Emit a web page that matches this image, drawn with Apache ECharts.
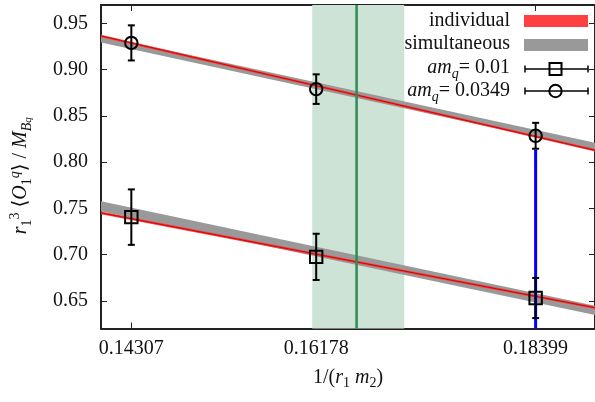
<!DOCTYPE html>
<html>
<head>
<meta charset="utf-8">
<script src="https://cdn.jsdelivr.net/npm/echarts@6/dist/echarts.min.js"></script>
<style>
html,body{margin:0;padding:0;background:#fff;}
#c{width:595px;height:402px;}
</style>
</head>
<body>
<div id="c"></div>
<script>
// ---- data ----
const xTicks = [0.14307, 0.16178, 0.18399];
const yTicks = [0.65, 0.70, 0.75, 0.80, 0.85, 0.90, 0.95];
const xRange = [0.14, 0.19];
const yRange = [0.62, 0.97];

// fit lines evaluated at the two ends of the x range
const fitX = [0.14, 0.19];
const indivUpperY = [0.9365, 0.8129];
const indivLowerY = [0.7451, 0.6425];
const indivHalf = [0.0014, 0.0014];
const simUpperY = [0.9330, 0.8172];
const simUpperHalf = [0.0037, 0.0037];
const simLowerY = [0.7523, 0.6395];
const simLowerHalf = [0.0054, 0.0050];

// data points
const pointX = [0.14307, 0.16178, 0.18399];
const circleY = [0.929, 0.879, 0.8285];
const circleErr = [0.019, 0.016, 0.014];
const squareY = [0.7405, 0.6975, 0.653];
const squareErr = [0.030, 0.025, 0.0217];

// physical point band and line
const bandX = [0.16138, 0.17069];
const centralX = 0.16587;
const blueX = 0.18399;
const blueY = [0.62, 0.8136];

const FONT = "'Liberation Serif', 'DejaVu Serif', serif";

function bandItem(yc, half) {
  return [fitX[0], yc[0] - half[0], yc[0] + half[0], fitX[1], yc[1] - half[1], yc[1] + half[1]];
}

function bandRender(fill, centerColor) {
  return function (params, api) {
    const x0 = api.value(0), lo0 = api.value(1), hi0 = api.value(2);
    const x1 = api.value(3), lo1 = api.value(4), hi1 = api.value(5);
    const pts = [api.coord([x0, hi0]), api.coord([x1, hi1]), api.coord([x1, lo1]), api.coord([x0, lo0])];
    const children = [{ type: 'polygon', shape: { points: pts }, style: { fill: fill } }];
    if (centerColor) {
      children.push({
        type: 'polyline',
        shape: { points: [api.coord([x0, (lo0 + hi0) / 2]), api.coord([x1, (lo1 + hi1) / 2])] },
        style: { stroke: centerColor, lineWidth: 0.8, fill: null }
      });
    }
    return { type: 'group', children: children };
  };
}

function errRender(kind) {
  return function (params, api) {
    const x = api.value(0), y = api.value(1), e = api.value(2);
    const c = api.coord([x, y]);
    const t = api.coord([x, y + e]);
    const b = api.coord([x, y - e]);
    const st = { stroke: '#000', lineWidth: 2, fill: null };
    const ch = [
      { type: 'line', shape: { x1: t[0], y1: t[1], x2: b[0], y2: b[1] }, style: st },
      { type: 'line', shape: { x1: t[0] - 3.5, y1: t[1], x2: t[0] + 3.5, y2: t[1] }, style: st },
      { type: 'line', shape: { x1: b[0] - 3.5, y1: b[1], x2: b[0] + 3.5, y2: b[1] }, style: st }
    ];
    if (kind === 'circle') {
      ch.push({ type: 'circle', shape: { cx: c[0], cy: c[1], r: 6.2 }, style: st });
    } else {
      ch.push({ type: 'rect', shape: { x: c[0] - 6.2, y: c[1] - 6.2, width: 12.4, height: 12.4 }, style: st });
    }
    return { type: 'group', children: ch };
  };
}

const rich = {
  i: { fontFamily: FONT, fontSize: 20, fontStyle: 'italic', lineHeight: 26, color: '#111' },
  n: { fontFamily: FONT, fontSize: 20, lineHeight: 26, color: '#111' },
  sb: { fontFamily: FONT, fontSize: 14, lineHeight: 14, verticalAlign: 'bottom', color: '#111' },
  sbi: { fontFamily: FONT, fontSize: 14, lineHeight: 14, verticalAlign: 'bottom', fontStyle: 'italic', color: '#111' },
  ssbi: { fontFamily: FONT, fontSize: 11, lineHeight: 8, verticalAlign: 'bottom', fontStyle: 'italic', color: '#111' },
  sp: { fontFamily: FONT, fontSize: 14, lineHeight: 14, verticalAlign: 'top', color: '#111' },
  spi: { fontFamily: FONT, fontSize: 14, lineHeight: 14, verticalAlign: 'top', fontStyle: 'italic', color: '#111' }
};

const axisCommon = {
  type: 'value',
  axisLine: { show: true, onZero: false, lineStyle: { color: '#222', width: 2 } },
  axisTick: { show: true, inside: true, length: 6, lineStyle: { color: '#222', width: 1 } },
  splitLine: { show: false }
};

const chart = echarts.init(document.getElementById('c'), null, { renderer: 'canvas' });
chart.setOption({
  animation: false,
  backgroundColor: '#fff',
  grid: { left: 99, top: 5, width: 498.5, height: 323.5, containLabel: false },
  xAxis: [
    Object.assign({}, axisCommon, {
      position: 'bottom', min: xRange[0], max: xRange[1],
      axisTick: Object.assign({}, axisCommon.axisTick, { customValues: xTicks }),
      axisLabel: { customValues: xTicks, margin: 10, fontFamily: FONT, fontSize: 20, color: '#111',
        formatter: v => v.toFixed(5) },
      name: '{n|1/(}{i|r}{sb|1} {i|m}{sb|2}{n|)}',
      nameLocation: 'middle', nameGap: 36, nameMoveOverlap: false,
      nameTextStyle: { fontFamily: FONT, fontSize: 20, color: '#111', lineHeight: 26, rich: rich }
    }),
    Object.assign({}, axisCommon, {
      position: 'top', min: xRange[0], max: xRange[1],
      axisTick: Object.assign({}, axisCommon.axisTick, { customValues: xTicks }),
      axisLabel: { show: false, customValues: xTicks }
    })
  ],
  yAxis: [
    Object.assign({}, axisCommon, {
      position: 'left', min: yRange[0], max: yRange[1],
      axisTick: Object.assign({}, axisCommon.axisTick, { customValues: yTicks }),
      axisLabel: { customValues: yTicks, margin: 13, fontFamily: FONT, fontSize: 20, color: '#111',
        formatter: v => v.toFixed(2) },
      name: '{i|r}{sb|1}{sp|3} {n|⟨}{i|O}{sb|1}{spi|q}{n|⟩ / }{i|M}{sbi|B}{ssbi|q}',
      nameLocation: 'middle', nameRotate: 90, nameGap: 67, nameMoveOverlap: false,
      nameTextStyle: { fontFamily: FONT, fontSize: 20, color: '#111', lineHeight: 26, rich: rich,
        padding: [0, 18, 0, 0] }
    }),
    Object.assign({}, axisCommon, {
      position: 'right', min: yRange[0], max: yRange[1],
      axisTick: Object.assign({}, axisCommon.axisTick, { customValues: yTicks }),
      axisLabel: { show: false, customValues: yTicks }
    })
  ],
  series: [
    {
      type: 'custom', z: 1, silent: true,
      data: [[bandX[0], yRange[0], bandX[1], yRange[1]]],
      renderItem: function (params, api) {
        const a = api.coord([api.value(0), api.value(3)]);
        const b = api.coord([api.value(2), api.value(1)]);
        return { type: 'rect', shape: { x: a[0], y: a[1], width: b[0] - a[0], height: b[1] - a[1] },
          style: { fill: '#cce3d5' } };
      }
    },
    {
      type: 'custom', z: 2, silent: true,
      data: [bandItem(simUpperY, simUpperHalf), bandItem(simLowerY, simLowerHalf)],
      renderItem: bandRender('#999999', null)
    },
    {
      type: 'custom', z: 3, silent: true,
      data: [bandItem(indivUpperY, indivHalf), bandItem(indivLowerY, indivHalf)],
      renderItem: bandRender('#ff3b3b', '#b00000')
    },
    {
      type: 'line', z: 4, symbol: 'none', silent: true,
      data: [[centralX, yRange[0]], [centralX, yRange[1]]],
      lineStyle: { color: '#2e8b57', width: 2.5 }
    },
    {
      type: 'line', z: 4, symbol: 'none', silent: true,
      data: [[blueX, blueY[0]], [blueX, blueY[1]]],
      lineStyle: { color: '#0000ff', width: 3 }
    },
    {
      type: 'custom', z: 5, silent: true,
      data: pointX.map((x, i) => [x, squareY[i], squareErr[i]]),
      renderItem: errRender('square')
    },
    {
      type: 'custom', z: 5, silent: true,
      data: pointX.map((x, i) => [x, circleY[i], circleErr[i]]),
      renderItem: errRender('circle')
    }
  ],
  graphic: [
    { type: 'text', x: 510, y: 21, z: 10, style: { text: 'individual', font: "20px " + FONT, fill: '#111', align: 'right', verticalAlign: 'middle' } },
    { type: 'rect', z: 10, shape: { x: 524, y: 15, width: 64, height: 12 }, style: { fill: '#ff4040' } },
    { type: 'text', x: 510, y: 44, z: 10, style: { text: 'simultaneous', font: "20px " + FONT, fill: '#111', align: 'right', verticalAlign: 'middle' } },
    { type: 'rect', z: 10, shape: { x: 524, y: 39, width: 64, height: 12 }, style: { fill: '#999999' } },
    { type: 'text', x: 510, y: 68, z: 10, style: { text: '{i|am}{sbi|q}{n|= 0.01}', rich: rich, fill: '#111', align: 'right', verticalAlign: 'middle' } },
    { type: 'group', z: 10, children: [
      { type: 'line', shape: { x1: 525, y1: 69, x2: 588, y2: 69 }, style: { stroke: '#000', lineWidth: 1.5 } },
      { type: 'line', shape: { x1: 525, y1: 65.5, x2: 525, y2: 72.5 }, style: { stroke: '#000', lineWidth: 1.5 } },
      { type: 'line', shape: { x1: 588, y1: 65.5, x2: 588, y2: 72.5 }, style: { stroke: '#000', lineWidth: 1.5 } },
      { type: 'rect', shape: { x: 549.5, y: 63, width: 12, height: 12 }, style: { stroke: '#000', lineWidth: 2, fill: null } }
    ] },
    { type: 'text', x: 510, y: 91, z: 10, style: { text: '{i|am}{sbi|q}{n|= 0.0349}', rich: rich, fill: '#111', align: 'right', verticalAlign: 'middle' } },
    { type: 'group', z: 10, children: [
      { type: 'line', shape: { x1: 525, y1: 91, x2: 588, y2: 91 }, style: { stroke: '#000', lineWidth: 1.5 } },
      { type: 'line', shape: { x1: 525, y1: 87.5, x2: 525, y2: 94.5 }, style: { stroke: '#000', lineWidth: 1.5 } },
      { type: 'line', shape: { x1: 588, y1: 87.5, x2: 588, y2: 94.5 }, style: { stroke: '#000', lineWidth: 1.5 } },
      { type: 'circle', shape: { cx: 555.5, cy: 91, r: 6.2 }, style: { stroke: '#000', lineWidth: 2, fill: null } }
    ] }
  ]
});
</script>
</body>
</html>
